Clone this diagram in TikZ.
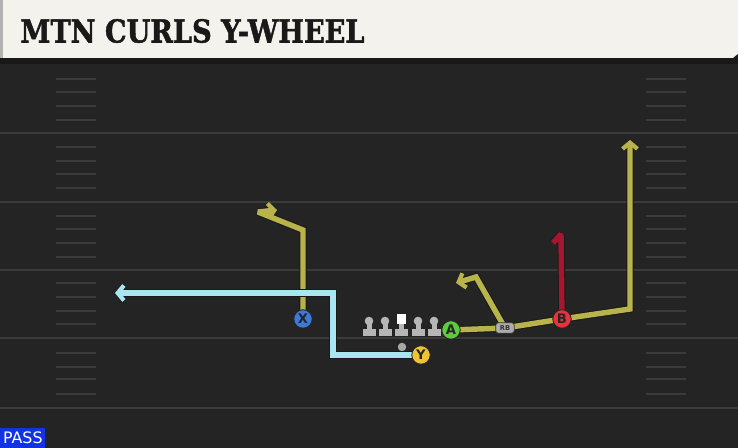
\documentclass[tikz,border=0pt]{standalone}
\usepackage{fontspec}
\newfontfamily\titlefont[BoldFeatures={FakeBold=1.6}]{DejaVu Serif}
\newfontfamily\tagfont{DejaVu Sans}
\usetikzlibrary{arrows.meta}
\definecolor{fieldbg}{HTML}{242424}
\definecolor{yardcol}{HTML}{3B3B3B}
\definecolor{creamcol}{HTML}{F4F2EC}
\definecolor{olivecol}{HTML}{B9B34B}
\definecolor{skycol}{HTML}{AAE5F2}
\definecolor{wine}{HTML}{A6172F}
\definecolor{xblue}{HTML}{3D79D9}
\definecolor{yyellow}{HTML}{F1C232}
\definecolor{agreen}{HTML}{5DCB3D}
\definecolor{bred}{HTML}{E7333E}
\definecolor{linegray}{HTML}{B6B6B6}
\definecolor{passblue}{HTML}{1233E4}
\pgfdeclarelayer{field}
\pgfdeclarelayer{routes}
\pgfsetlayers{field,routes,main}

\begin{document}
\begin{tikzpicture}[x=0.02cm,y=-0.02cm,
  player/.style={circle,draw=black!85,line width=0.5pt,minimum size=0.37cm,inner sep=0pt,font=\tagfont\bfseries\fontsize{7.5}{7.5}\selectfont,text=black!85},
  route/.style={line width=3.1pt,line join=miter,miter limit=2,preaction={draw=black!90,line width=4.2pt,miter limit=2}},
  tip/.style={-{Straight Barb[length=3.5pt,width=8.5pt,line width=2.4pt]}},
  yardline/.style={draw=yardcol,line width=1.2pt},
  hashmark/.style={draw=yardcol,line width=1pt}]
  \useasboundingbox (0,0) rectangle (738,448);
  \begin{pgfonlayer}{field}
    \fill[fieldbg] (-2,-2) rectangle (740,450);
    \foreach \y in {133,202,270,338,408}
      \draw[yardline] (0,\y) -- (738,\y);
    \foreach \y in {79,92,106,120,147,161,174,188,216,229,243,257,283,297,311,324,353,367,379,394} {
      \draw[hashmark] (56,\y) -- (96,\y);
      \draw[hashmark] (646,\y) -- (686,\y);
    }
    % header
    \fill[black!90] (-2,56) rectangle (740,64);
    \fill[creamcol] (-2,-2) -- (740,-2) -- (740,52) -- (733,58) -- (-2,58) -- cycle;
    \fill[black!30] (-2,-2) rectangle (3,58);
  \end{pgfonlayer}
  \node[anchor=west,inner sep=0pt,font=\titlefont\bfseries\fontsize{18}{18}\selectfont,text=black!90] (title) at (20,31) {\scalebox{0.86}[1]{MTN CURLS Y-WHEEL}};
  \node[anchor=south west,fill=passblue,text=white,inner sep=1.5pt,minimum width=0.9cm,minimum height=0.4cm,font=\tagfont\fontsize{9}{9}\selectfont] (pass) at (0,448) {PASS};
  % line
  \foreach \x in {369,385,418,434} {
    \fill[linegray] (\x-6.5,329) rectangle (\x+6.5,336);
    \fill[linegray] (\x-2.5,322) rectangle (\x+2.5,330);
    \fill[linegray] (\x,321) circle (4.3);
  }
  \fill[linegray] (395,329) rectangle (408,336);
  \fill[linegray] (399,322) rectangle (404,330);
  \fill[white] (397,314) rectangle (406,324);
  \node[circle,fill=gray!70,minimum size=0.17cm,inner sep=0pt] (qb) at (402,347) {};
  \node[draw=black!80,fill=gray!65,rounded corners=1.5pt,minimum width=0.37cm,minimum height=0.21cm,inner sep=0pt,font=\tagfont\bfseries\fontsize{3.8}{3.8}\selectfont,text=black!80] (rb) at (505,328) {RB};
  \node[player,fill=xblue] (x) at (303,319) {X};
  \node[player,fill=yyellow] (y) at (421,355) {Y};
  \node[player,fill=agreen] (a) at (451,330) {A};
  \node[player,fill=bred] (b) at (562,319) {B};
  \coordinate (xturn) at (303,230);
  \coordinate (xcurl) at (258,212);
  \coordinate (xend) at (277,210);
  \coordinate (ydown) at (333,355);
  \coordinate (yup) at (333,293);
  \coordinate (yend) at (115,293);
  \coordinate (aturn) at (630,309);
  \coordinate (aend) at (630,140);
  \coordinate (rbturn) at (476,277);
  \coordinate (rbend) at (456,283);
  \coordinate (bend) at (561,234);
  \begin{pgfonlayer}{routes}
    \draw[route,olivecol,tip] (x.center) -- (xturn) -- (xcurl) -- (xend);
    \draw[route,skycol,tip] (y.center) -- (ydown) -- (yup) -- (yend);
    \draw[route,olivecol,tip] (a.center) -- (rb.center) -- (b.center) -- (aturn) -- (aend);
    \draw[route,olivecol,tip] (rb.center) -- (rbturn) -- (rbend);
    \draw[route,wine] (b.center) -- (bend) -- (553,243);
  \end{pgfonlayer}
\end{tikzpicture}
\end{document}
